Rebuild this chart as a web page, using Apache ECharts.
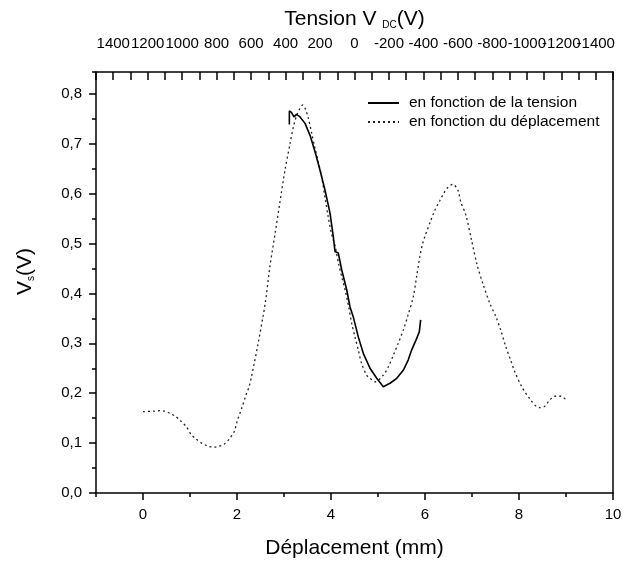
<!DOCTYPE html>
<html>
<head>
<meta charset="utf-8">
<script src="https://cdn.jsdelivr.net/npm/echarts@6/dist/echarts.min.js"></script>
<style>
  html, body { margin: 0; background: #fff; }
  #chart { width: 625px; height: 565px; }
</style>
</head>
<body>
<div id="chart"></div>
<script>
// courbe pointillee : Vs en fonction du deplacement (mm)
var depX = [0.00, 0.22, 0.35, 0.45, 0.57, 0.70, 0.82, 0.93, 1.02, 1.13, 1.25, 1.38, 1.50, 1.62, 1.73, 1.85, 1.94, 2.01, 2.10, 2.19,
  2.26, 2.31, 2.45, 2.60, 2.70, 2.81, 2.91, 3.02, 3.13, 3.20, 3.27, 3.34, 3.40, 3.45, 3.52, 3.59, 3.66, 3.73, 3.80, 3.87,
  3.94, 4.01, 4.09, 4.16, 4.23, 4.30, 4.37, 4.44, 4.51, 4.58, 4.65, 4.76, 4.83, 4.94, 5.11, 5.22, 5.33, 5.43, 5.54, 5.64,
  5.75, 5.82, 5.89, 5.95, 6.00, 6.11, 6.21, 6.32, 6.40, 6.47, 6.59, 6.70, 6.76, 6.87, 6.99, 7.11, 7.24, 7.38, 7.51, 7.61,
  7.72, 7.82, 7.91, 8.06, 8.22, 8.43, 8.55, 8.64, 8.77, 8.89, 9.01];
var depY = [0.163, 0.164, 0.165, 0.164, 0.160, 0.153, 0.143, 0.132, 0.118, 0.108, 0.100, 0.094, 0.092, 0.094, 0.098, 0.110, 0.123, 0.146, 0.170, 0.196,
  0.214, 0.234, 0.300, 0.380, 0.454, 0.520, 0.581, 0.647, 0.701, 0.734, 0.757, 0.771, 0.778, 0.771, 0.751, 0.721, 0.691, 0.664, 0.634, 0.594,
  0.554, 0.520, 0.494, 0.460, 0.433, 0.407, 0.376, 0.340, 0.313, 0.287, 0.260, 0.236, 0.230, 0.223, 0.236, 0.253, 0.277, 0.300, 0.327, 0.357,
  0.393, 0.433, 0.474, 0.500, 0.515, 0.543, 0.567, 0.587, 0.601, 0.611, 0.619, 0.607, 0.584, 0.557, 0.507, 0.457, 0.417, 0.380, 0.353, 0.327,
  0.293, 0.267, 0.243, 0.213, 0.190, 0.171, 0.174, 0.185, 0.194, 0.194, 0.186];

// courbe continue : Vs en fonction de la tension V_DC (V)
var tenX = [378, 378, 366, 351, 337, 316, 287, 258, 229, 200, 171, 142, 123, 113, 94, 74, 45, 26, 7, -22,
  -51, -90, -129, -167, -177, -206, -245, -283, -312, -332, -361, -376, -384];
var tenY = [0.739, 0.766, 0.763, 0.754, 0.759, 0.754, 0.741, 0.717, 0.684, 0.647, 0.607, 0.561, 0.514, 0.484, 0.481, 0.447, 0.407, 0.373, 0.353, 0.313,
  0.280, 0.250, 0.230, 0.213, 0.216, 0.220, 0.230, 0.246, 0.267, 0.287, 0.310, 0.323, 0.347];

var bottomTicks = [0, 2, 4, 6, 8, 10];
var leftTicks = [0, 0.1, 0.2, 0.3, 0.4, 0.5, 0.6, 0.7, 0.8];
var topTicks = [1400, 1200, 1000, 800, 600, 400, 200, 0, -200, -400, -600, -800, -1000, -1200, -1400];

// les etiquettes du haut se touchent : on les repartit sur deux axes superposes
// pour qu'ECharts n'en masque aucune aux extremites
var topTicksA = topTicks.filter(function (v, i) { return i % 2 === 0; });
var topTicksB = topTicks.filter(function (v, i) { return i % 2 === 1; });

var FONT = 'Liberation Sans';
var box = { left: 96, right: 12, top: 72, bottom: 72, outerBoundsMode: 'none' };
var lineCol = '#000';

function pairs(xs, ys) {
  var out = [];
  for (var i = 0; i < xs.length; i++) out.push([xs[i], ys[i]]);
  return out;
}

var topLabel = {
  margin: 21, fontFamily: FONT, fontSize: 15, color: '#000',
  showMinLabel: true, showMaxLabel: true, hideOverlap: false,
  formatter: function (v) { return String(v); }
};

var chart = echarts.init(document.getElementById('chart'));

var option = {
  backgroundColor: '#fff',
  animation: false,
  textStyle: { fontFamily: FONT },
  grid: [
    Object.assign({}, box),
    Object.assign({}, box)
  ],
  legend: {
    orient: 'vertical',
    left: 362,
    top: 90,
    itemWidth: 31,
    itemHeight: 14,
    itemGap: 3,
    itemStyle: { opacity: 0 },
    textStyle: { fontFamily: FONT, fontSize: 15.5, color: '#000', lineHeight: 16, padding: [0, 0, 0, 5] },
    data: ['en fonction de la tension', 'en fonction du déplacement']
  },
  xAxis: [
    {
      // deplacement, en bas
      type: 'value', gridIndex: 0, position: 'bottom',
      min: -1, max: 10, interval: 1,
      name: 'Déplacement (mm)', nameLocation: 'middle', nameGap: 45,
      nameTextStyle: { fontFamily: FONT, fontSize: 21, color: '#000' },
      axisLine: { show: true, onZero: false, lineStyle: { color: lineCol, width: 1.5 } },
      axisTick: { show: true, length: 7, customValues: bottomTicks, lineStyle: { color: lineCol, width: 1.5 } },
      axisLabel: { customValues: bottomTicks, margin: 14, fontFamily: FONT, fontSize: 15, color: '#000',
        showMinLabel: true, showMaxLabel: true },
      splitLine: { show: false }
    },
    {
      // tension, en haut
      type: 'value', gridIndex: 0, position: 'top', inverse: true,
      min: -1500, max: 1500, interval: 100,
      name: 'Tension V {s|DC}(V)', nameLocation: 'middle', nameGap: 42,
      nameTextStyle: {
        fontFamily: FONT, fontSize: 21, color: '#000',
        rich: { s: { fontFamily: FONT, fontSize: 10, color: '#000', verticalAlign: 'bottom', lineHeight: 10 } }
      },
      axisLine: { show: true, onZero: false, lineStyle: { color: lineCol, width: 1.5 } },
      axisTick: { show: true, inside: true, length: 8, lineStyle: { color: lineCol, width: 1.5 } },
      axisLabel: Object.assign({ customValues: topTicksA }, topLabel),
      splitLine: { show: false }
    },
    {
      // petites graduations du bas
      type: 'value', gridIndex: 1, position: 'bottom',
      min: -1, max: 10, interval: 1,
      axisLine: { show: false, onZero: false },
      axisTick: { show: true, length: 4, lineStyle: { color: lineCol, width: 1.5 } },
      axisLabel: { show: false },
      splitLine: { show: false }
    },
    {
      // autre moitie des etiquettes du haut
      type: 'value', gridIndex: 1, position: 'top', inverse: true,
      min: -1500, max: 1500, interval: 100,
      axisLine: { show: false, onZero: false },
      axisTick: { show: false },
      axisLabel: Object.assign({ customValues: topTicksB }, topLabel),
      splitLine: { show: false }
    }
  ],
  yAxis: [
    {
      type: 'value', gridIndex: 0, position: 'left',
      min: 0, max: 0.844, interval: 0.1,
      name: 'V{s|s}(V)', nameLocation: 'middle', nameGap: 60,
      nameTextStyle: {
        fontFamily: FONT, fontSize: 21, color: '#000', padding: [0, 0, 0, 22],
        rich: { s: { fontFamily: FONT, fontSize: 10, color: '#000', verticalAlign: 'bottom', lineHeight: 10 } }
      },
      axisLine: { show: true, onZero: false, lineStyle: { color: lineCol, width: 1.5 } },
      axisTick: { show: true, length: 7, customValues: leftTicks, lineStyle: { color: lineCol, width: 1.5 } },
      axisLabel: {
        customValues: leftTicks, margin: 14, fontFamily: FONT, fontSize: 15, color: '#000',
        showMinLabel: true, showMaxLabel: true,
        formatter: function (v) { return v.toFixed(1).replace('.', ','); }
      },
      splitLine: { show: false }
    },
    {
      type: 'value', gridIndex: 0, position: 'right',
      min: 0, max: 0.844,
      axisLine: { show: true, onZero: false, lineStyle: { color: lineCol, width: 1.5 } },
      axisTick: { show: false },
      axisLabel: { show: false },
      splitLine: { show: false }
    },
    {
      // petites graduations de gauche
      type: 'value', gridIndex: 1, position: 'left',
      min: 0, max: 0.844, interval: 0.05,
      axisLine: { show: false, onZero: false },
      axisTick: { show: true, length: 4, lineStyle: { color: lineCol, width: 1.5 } },
      axisLabel: { show: false },
      splitLine: { show: false }
    }
  ],
  series: [
    {
      name: 'en fonction de la tension',
      type: 'line',
      xAxisIndex: 1, yAxisIndex: 0,
      data: pairs(tenX, tenY),
      symbol: 'none',
      lineStyle: { color: '#000', width: 1.6 },
      itemStyle: { color: '#000' },
      z: 3
    },
    {
      name: 'en fonction du déplacement',
      type: 'line',
      xAxisIndex: 0, yAxisIndex: 0,
      data: pairs(depX, depY),
      symbol: 'none',
      smooth: 0.3,
      lineStyle: { color: '#222', width: 1.3, type: [2, 3] },
      itemStyle: { color: '#222' },
      z: 2
    }
  ]
};

chart.setOption(option);
</script>
</body>
</html>
